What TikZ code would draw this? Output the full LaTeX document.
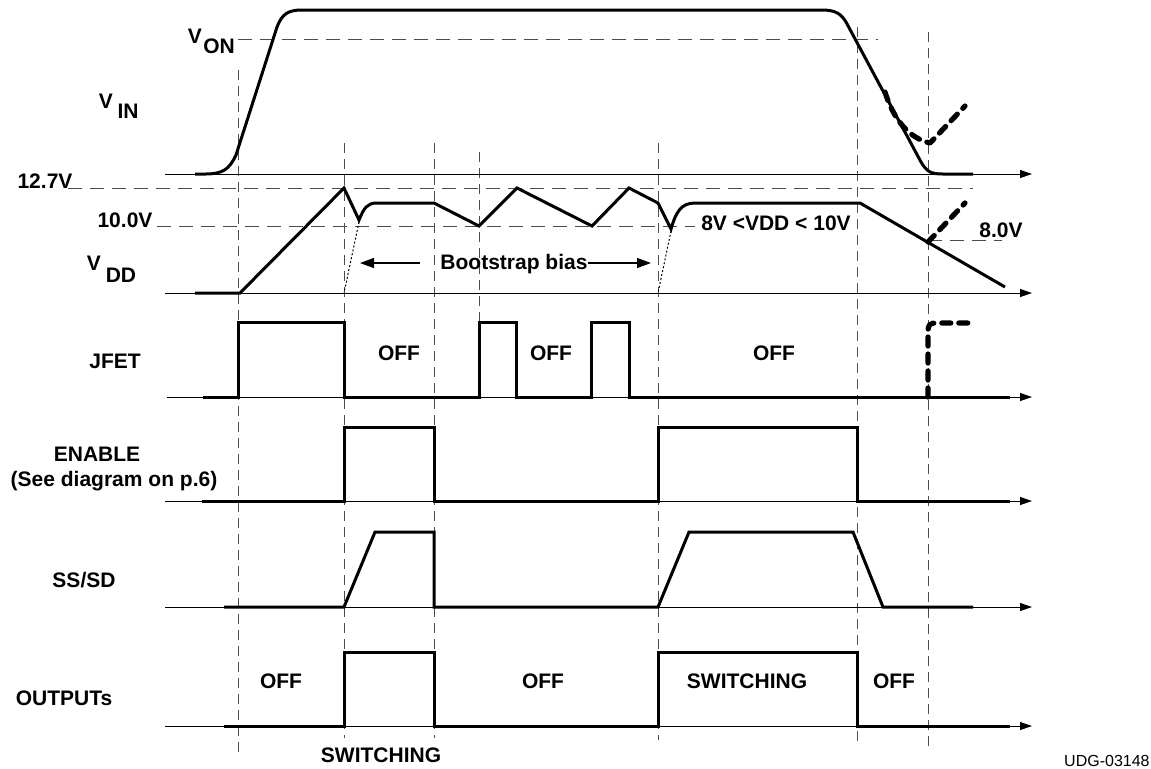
\documentclass[tikz,border=0pt]{standalone}
\usepackage{fontspec}
\setmainfont{Liberation Sans}
\usetikzlibrary{arrows.meta}
\begin{document}
\begin{tikzpicture}[x=0.5pt,y=-0.5pt,
  lbl/.style={font=\fontsize{10.5}{12}\selectfont\bfseries, inner sep=0pt, anchor=base},
  axis/.style={line width=0.5pt, -{Triangle[length=6pt,width=4pt]}},
  trace/.style={line width=1.5pt, line join=miter},
  vdash/.style={line width=0.5pt, black!70, dash pattern=on 5pt off 3pt},
  hdash/.style={line width=0.5pt, black!70, dash pattern=on 7pt off 4pt},
  bolddash/.style={line width=2.6pt, dash pattern=on 4.5pt off 4pt, line cap=round, line join=round},
  barrow/.style={line width=0.6pt, -{Triangle[length=7pt,width=5pt]}},
  dotline/.style={line width=0.5pt, black, dash pattern=on 1pt off 1pt}]
\useasboundingbox (0,0) rectangle (1151,768);

% vertical dashed guides
\draw[vdash] (238,70) -- (238,755);
\draw[vdash] (344,143) -- (344,738);
\draw[vdash] (434,143) -- (434,738);
\draw[vdash] (479,152) -- (479,322);
\draw[vdash] (658,143) -- (658,740);
\draw[vdash] (857,27) -- (857,743);
\draw[vdash] (928,32) -- (928,747);

% horizontal dashed levels
\draw[hdash] (238,39) -- (878,39);
\draw[hdash] (68,188) -- (973,188);
\draw[hdash] (157,226) -- (695,226);
\draw[hdash] (928,240) -- (1002,240);

% axes
\draw[axis] (165,174) -- (1032,174);
\draw[axis] (165,293) -- (1032,293);
\draw[axis] (167,397) -- (1032,397);
\draw[axis] (165,501) -- (1032,501);
\draw[axis] (165,607) -- (1032,607);
\draw[axis] (165,726) -- (1032,726);

% VIN
\draw[trace] (195,174) -- (205,174) .. controls (222,174) and (229,170) .. (236,155)
  -- (277,27) .. controls (282,14) and (288,10) .. (302,10) -- (822,10)
  .. controls (836,10) and (841,14) .. (846,22) -- (921,162)
  .. controls (927,172) and (931,174) .. (943,174) -- (973,174);

% VDD
\draw[trace] (195,293) -- (240,293) -- (344,188) -- (359,220)
  .. controls (364,208) and (367,203) .. (377,203) -- (434,203) -- (479,226)
  -- (517,188) -- (592,226) -- (629,188) -- (658,203) -- (671,229)
  .. controls (676,212) and (681,203) .. (695,203) -- (860,203) -- (1005,287);
\draw[dotline] (359,222) -- (344,293);
\draw[dotline] (671,231) -- (658,293);

% JFET
\draw[trace] (203,397) -- (238,397) -- (238,322) -- (344,322) -- (344,397) -- (479,397)
  -- (479,322) -- (516,322) -- (516,397) -- (591,397) -- (591,322) -- (629,322)
  -- (629,397) -- (1010,397);

% ENABLE
\draw[trace] (202,501) -- (344,501) -- (344,427) -- (434,427) -- (434,501) -- (658,501)
  -- (658,427) -- (857,427) -- (857,501) -- (1010,501);

% SS/SD
\draw[trace] (224,607) -- (344,607) -- (375,532) -- (434,532) -- (434,607) -- (658,607)
  -- (689,532) -- (853,532) -- (883,607) -- (973,607);

% OUTPUTs
\draw[trace] (224,726) -- (344,726) -- (344,652) -- (434,652) -- (434,726) -- (658,726)
  -- (658,652) -- (857,652) -- (857,726) -- (1010,726);

% bold dashed annotations
\draw[bolddash] (885,92) .. controls (893,118) and (908,138) .. (930,143) -- (965,106);
\draw[bolddash] (928,242) -- (965,203);
\draw[bolddash] (928,397) -- (928,331) .. controls (928,325) and (930,323) .. (936,323) -- (972,323);

% bootstrap bias arrows
\node[lbl] (boot) at (514,269) {Bootstrap bias};
\draw[barrow] (420,263) -- (360,263);
\draw[barrow] (boot.east |- 0,263) -- (651,263);

% labels
\node[lbl] (von) at (195,43) {V};
\node[lbl] (vonsub) at (219,53) {ON};
\node[lbl] (vin) at (106,108) {V};
\node[lbl] (vinsub) at (128,118) {IN};
\node[lbl] (vdd) at (94,270) {V};
\node[lbl] (vddsub) at (121,282) {DD};
\node[lbl] (l127) at (45,188) {12.7V};
\node[lbl] (l100) at (125,227) {10.0V};
\node[lbl] (range) at (776,230) {8V <VDD < 10V};
\node[lbl] (l80) at (1001,237) {8.0V};
\node[lbl] (jfet) at (115,368) {JFET};
\node[lbl] (off1) at (399,360) {OFF};
\node[lbl] (off2) at (551,360) {OFF};
\node[lbl] (off3) at (774,360) {OFF};
\node[lbl] (enable) at (97,461) {ENABLE};
\node[lbl] (seediag) at (114,486) {(See diagram on p.6)};
\node[lbl] (sssd) at (84,587) {SS/SD};
\node[lbl] (outputs) at (64,705) {OUTPUTs};
\node[lbl] (ooff1) at (281,688) {OFF};
\node[lbl] (ooff2) at (543,688) {OFF};
\node[lbl] (osw) at (747,688) {SWITCHING};
\node[lbl] (ooff3) at (894,688) {OFF};
\node[lbl] (sw) at (381,762) {SWITCHING};
\node[font=\fontsize{8}{9}\selectfont, inner sep=0pt, anchor=base east] (udg) at (1150,766) {UDG-03148};
\end{tikzpicture}
\end{document}
